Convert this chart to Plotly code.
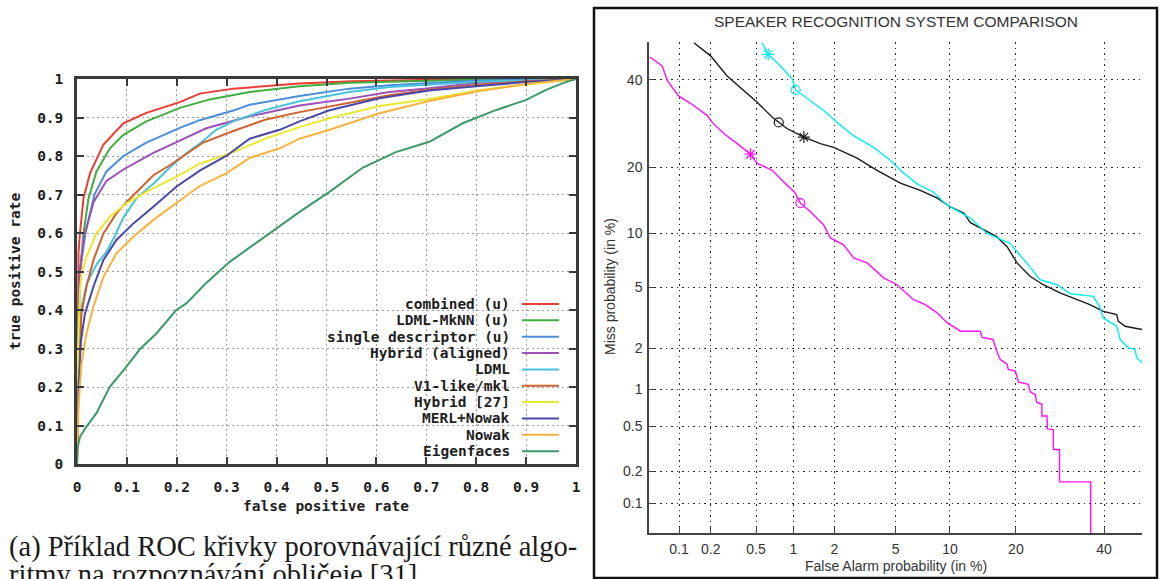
from statistics import NormalDist
import plotly.graph_objects as go

W, H = 1162, 579

# ---------------- ROC curves (face recognition) ----------------
roc_names = ["combined (u)", "LDML-MkNN (u)", "single descriptor (u)", "Hybrid (aligned)",
             "LDML", "V1-like/mkl", "Hybrid [27]", "MERL+Nowak", "Nowak", "Eigenfaces"]
roc_colors = ["#ee3b32", "#3fae3f", "#4a8edc", "#9b4fb8", "#46c4dc",
              "#d2602c", "#ebe832", "#4848ac", "#f9b33c", "#3b9a68"]

red_fpr = [0, 0.001, 0.003, 0.006, 0.013, 0.026, 0.053, 0.093, 0.139, 0.206, 0.246, 0.313, 0.446, 0.55, 0.65, 0.75, 1.0]
red_tpr = [0, 0.30, 0.55, 0.60, 0.69, 0.755, 0.83, 0.885, 0.912, 0.94, 0.962, 0.975, 0.988, 0.994, 0.997, 0.999, 1.0]

green_fpr = [0, 0.002, 0.006, 0.013, 0.023, 0.039, 0.066, 0.093, 0.139, 0.206, 0.266, 0.346, 0.446, 0.546, 0.626, 0.8, 1.0]
green_tpr = [0, 0.35, 0.50, 0.60, 0.69, 0.76, 0.82, 0.855, 0.89, 0.925, 0.947, 0.966, 0.981, 0.99, 0.993, 0.998, 1.0]

blue_fpr = [0, 0.002, 0.006, 0.017, 0.035, 0.059, 0.093, 0.139, 0.206, 0.246, 0.313, 0.346, 0.446, 0.546, 0.626, 0.706, 0.806, 1.0]
blue_tpr = [0, 0.30, 0.50, 0.60, 0.70, 0.76, 0.80, 0.835, 0.873, 0.893, 0.918, 0.933, 0.956, 0.975, 0.984, 0.99, 0.996, 1.0]

purple_fpr = [0, 0.002, 0.006, 0.014, 0.033, 0.059, 0.093, 0.153, 0.206, 0.259, 0.346, 0.446, 0.546, 0.626, 0.706, 0.806, 1.0]
purple_tpr = [0, 0.28, 0.50, 0.59, 0.68, 0.735, 0.765, 0.808, 0.84, 0.872, 0.903, 0.931, 0.949, 0.966, 0.976, 0.99, 1.0]

cyan_fpr = [0, 0.003, 0.008, 0.02, 0.04, 0.059, 0.073, 0.093, 0.119, 0.159, 0.186, 0.219, 0.246, 0.279, 0.313, 0.379, 0.446, 0.546, 0.626, 0.706, 0.806, 1.0]
cyan_tpr = [0, 0.25, 0.40, 0.47, 0.52, 0.551, 0.585, 0.64, 0.69, 0.735, 0.77, 0.807, 0.832, 0.868, 0.89, 0.92, 0.942, 0.966, 0.979, 0.985, 0.993, 1.0]

brown_fpr = [0, 0.003, 0.009, 0.019, 0.033, 0.053, 0.079, 0.093, 0.119, 0.153, 0.186, 0.253, 0.313, 0.379, 0.446, 0.513, 0.626, 0.706, 0.806, 0.9, 1.0]
brown_tpr = [0, 0.20, 0.392, 0.461, 0.53, 0.599, 0.651, 0.672, 0.706, 0.75, 0.776, 0.835, 0.865, 0.895, 0.914, 0.931, 0.958, 0.972, 0.985, 0.994, 1.0]

yellow_fpr = [0, 0.002, 0.006, 0.009, 0.019, 0.039, 0.066, 0.099, 0.146, 0.199, 0.246, 0.313, 0.379, 0.446, 0.506, 0.606, 0.706, 0.806, 0.9, 1.0]
yellow_tpr = [0, 0.30, 0.45, 0.495, 0.538, 0.599, 0.642, 0.677, 0.712, 0.746, 0.78, 0.81, 0.846, 0.875, 0.898, 0.93, 0.948, 0.971, 0.986, 1.0]

merl_fpr = [0, 0.003, 0.008, 0.016, 0.033, 0.053, 0.079, 0.113, 0.153, 0.199, 0.246, 0.299, 0.346, 0.406, 0.446, 0.506, 0.606, 0.706, 0.806, 0.9, 1.0]
merl_tpr = [0, 0.20, 0.32, 0.391, 0.461, 0.53, 0.582, 0.625, 0.668, 0.72, 0.762, 0.80, 0.845, 0.868, 0.89, 0.919, 0.95, 0.97, 0.982, 0.992, 1.0]

nowak_fpr = [0, 0.003, 0.009, 0.019, 0.033, 0.053, 0.079, 0.113, 0.153, 0.199, 0.246, 0.299, 0.346, 0.406, 0.446, 0.506, 0.606, 0.706, 0.806, 0.906, 1.0]
nowak_tpr = [0, 0.15, 0.26, 0.339, 0.409, 0.486, 0.547, 0.59, 0.634, 0.677, 0.722, 0.755, 0.795, 0.82, 0.845, 0.868, 0.911, 0.943, 0.969, 0.988, 1.0]

eigen_fpr = [0, 0, 0.006, 0.019, 0.039, 0.066, 0.096, 0.126, 0.159, 0.199, 0.219, 0.259, 0.306, 0.379, 0.446, 0.506, 0.573, 0.639, 0.706, 0.773, 0.839, 0.899, 0.939, 0.975, 1.0]
eigen_tpr = [0, 0.035, 0.071, 0.097, 0.132, 0.201, 0.248, 0.298, 0.339, 0.40, 0.417, 0.47, 0.525, 0.594, 0.655, 0.707, 0.77, 0.81, 0.837, 0.885, 0.919, 0.945, 0.971, 0.99, 1.0]

roc_series = [(red_fpr, red_tpr), (green_fpr, green_tpr), (blue_fpr, blue_tpr), (purple_fpr, purple_tpr),
              (cyan_fpr, cyan_tpr), (brown_fpr, brown_tpr), (yellow_fpr, yellow_tpr), (merl_fpr, merl_tpr),
              (nowak_fpr, nowak_tpr), (eigen_fpr, eigen_tpr)]
roc_ticks = [0, 0.1, 0.2, 0.3, 0.4, 0.5, 0.6, 0.7, 0.8, 0.9, 1]
roc_ticktext = ["0", "0.1", "0.2", "0.3", "0.4", "0.5", "0.6", "0.7", "0.8", "0.9", "1"]

# ---------------- DET curves (speaker recognition), values in % ----------------
pink_fa = [0.051, 0.068, 0.077, 0.099, 0.13, 0.186, 0.206, 0.263, 0.345, 0.449, 0.51, 0.68, 0.84, 1.02, 1.13,
           1.34, 1.68, 1.88, 2.32, 2.71, 3.33, 4.23, 5.1, 6.37, 7.4, 8.55, 9.65, 11.3, 14.0, 14.3, 16.0, 16.6,
           17.2, 18.4, 18.6, 19.9, 20.5, 22.4, 22.8, 23.8, 24.1, 25.2, 25.2, 26.3, 26.4, 27.7, 27.7, 29.1, 29.1,
           36.6, 36.6]
pink_miss = [46.0, 43.6, 39.7, 35.9, 34.0, 31.1, 29.5, 27.0, 24.8, 22.6, 20.8, 19.5, 17.4, 15.7, 14.0,
             12.8, 11.0, 9.46, 8.7, 7.4, 6.94, 5.7, 5.19, 4.21, 3.92, 3.49, 3.0, 2.63, 2.63, 2.39, 2.31, 1.92,
             1.67, 1.54, 1.41, 1.37, 1.13, 1.09, 0.95, 0.91, 0.79, 0.76, 0.61, 0.61, 0.476, 0.47, 0.316, 0.316,
             0.16, 0.16, 0.02]

black_fa = [0.139, 0.199, 0.281, 0.368, 0.51, 0.68, 0.766, 0.89, 1.20, 1.59, 1.98, 2.86, 3.85, 5.34, 6.94,
            8.55, 10.0, 11.7, 12.6, 14.5, 16.6, 18.4, 20.2, 22.8, 25.5, 29.2, 33.2, 36.4, 39.8, 43.3, 43.7,
            45.5, 50.0]
black_miss = [49.8, 46.3, 41.0, 38.0, 34.3, 30.7, 29.5, 28.1, 26.2, 24.8, 24.0, 21.8, 19.5, 17.2, 16.0,
              14.8, 13.5, 12.6, 11.3, 10.4, 9.6, 8.5, 6.94, 5.8, 5.19, 4.63, 4.21, 3.92, 3.55, 3.39, 3.07,
              2.84, 2.70]

cyan_fa = [0.56, 0.63, 0.79, 0.98, 1.04, 1.34, 1.68, 2.09, 2.71, 3.66, 4.65, 5.34, 6.66, 8.2, 9.26, 10.0,
           12.6, 15.0, 18.9, 22.1, 24.8, 28.5, 31.6, 37.3, 39.0, 39.8, 43.3, 44.2, 46.4, 48.1, 48.6, 50.0]
cyan_miss = [49.8, 46.7, 43.6, 40.2, 37.4, 34.7, 32.3, 29.5, 26.5, 24.0, 21.4, 19.5, 17.1, 15.7, 14.2, 13.5,
             11.9, 10.0, 8.87, 6.92, 5.56, 5.19, 4.58, 4.41, 3.74, 3.22, 2.84, 2.31, 2.02, 1.97, 1.72, 1.58]

# operating points: (FA %, Miss %)
black_star, black_circle = (1.20, 26.2), (0.766, 29.5)
cyan_star, cyan_circle = (0.63, 46.7), (1.04, 37.4)
pink_star, pink_circle = (0.449, 22.6), (1.13, 14.0)

det_ticks = [0.1, 0.2, 0.5, 1, 2, 5, 10, 20, 40]
det_ticktext = ["0.1", "0.2", "0.5", "1", "2", "5", "10", "20", "40"]
det_limits = [0.05, 50]

nd = NormalDist()


def probit(values):
    return [nd.inv_cdf(v / 100.0) for v in values]


fig = go.Figure()

for (fx, ty), col in zip(roc_series, roc_colors):
    fig.add_trace(go.Scatter(x=fx, y=ty, mode="lines", line=dict(color=col, width=2),
                             xaxis="x", yaxis="y", showlegend=False, hoverinfo="skip"))

det_lines = [(black_fa, black_miss, "#1a1a1a"), (cyan_fa, cyan_miss, "#00f0f0"), (pink_fa, pink_miss, "#ff10ff")]
for fa, miss, col in det_lines:
    fig.add_trace(go.Scatter(x=probit(fa), y=probit(miss), mode="lines", line=dict(color=col, width=1.4),
                             xaxis="x2", yaxis="y2", showlegend=False, hoverinfo="skip"))

det_points = [(black_star, black_circle, "#1a1a1a"), (cyan_star, cyan_circle, "#00f0f0"),
              (pink_star, pink_circle, "#ff10ff")]
for star, circ, col in det_points:
    fig.add_trace(go.Scatter(x=probit([star[0]]), y=probit([star[1]]), mode="markers",
                             marker=dict(symbol="asterisk-open", size=10, color=col,
                                         line=dict(color=col, width=1.2)),
                             xaxis="x2", yaxis="y2", showlegend=False, hoverinfo="skip"))
    fig.add_trace(go.Scatter(x=probit([circ[0]]), y=probit([circ[1]]), mode="markers",
                             marker=dict(symbol="circle-open", size=9, color=col,
                                         line=dict(color=col, width=1.2)),
                             xaxis="x2", yaxis="y2", showlegend=False, hoverinfo="skip"))


def px(x):
    return x / W


def py(y):
    return 1 - y / H


mono = dict(family="DejaVu Sans Mono", size=14.5, color="#1e1e1e", weight="bold")
sans = dict(family="Liberation Sans", size=14, color="#333333")
frame = "#3a3a3a"

roc_axis = dict(range=[0, 1], tickvals=roc_ticks, ticktext=roc_ticktext, showline=True, mirror="ticks",
                linecolor=frame, linewidth=2.5, ticks="inside", ticklen=7, tickwidth=2, tickcolor=frame,
                showgrid=True, gridcolor="#9c9c9c", gridwidth=1, griddash="2px,3px", zeroline=False,
                tickfont=mono)

det_range = probit(det_limits)
det_axis = dict(range=det_range, tickvals=probit(det_ticks), ticktext=det_ticktext, showline=True,
                mirror=False, linecolor="#444444", linewidth=1.5, ticks="inside", ticklen=6, tickwidth=1.2,
                tickcolor="#444444", showgrid=True, gridcolor="#202020", gridwidth=1, griddash="1.5px,4px",
                zeroline=False, tickfont=sans)

fig.update_layout(
    width=W, height=H, margin=dict(l=0, r=0, t=0, b=0, autoexpand=False),
    paper_bgcolor="white", plot_bgcolor="white", showlegend=False,
    xaxis=dict(roc_axis, domain=[px(77), px(576)], anchor="y", ticklabelstandoff=8),
    yaxis=dict(roc_axis, domain=[py(464), py(79)], anchor="x", ticklabelstandoff=8),
    xaxis2=dict(det_axis, domain=[px(649), px(1142)], anchor="y2", ticklabelstandoff=2),
    yaxis2=dict(det_axis, domain=[py(533), py(42)], anchor="x2", ticklabelstandoff=2),
)

shapes = []
annotations = []

# opaque key box over the ROC grid
shapes.append(dict(type="rect", xref="paper", yref="paper", x0=px(228), x1=px(575), y0=py(463), y1=py(293),
                   fillcolor="white", line=dict(width=0), layer="between"))
for i, (name, col) in enumerate(zip(roc_names, roc_colors)):
    yy = py(304 + i * 16.35)
    annotations.append(dict(x=px(512), y=yy, xref="paper", yref="paper", text=name, showarrow=False,
                            xanchor="right", yanchor="middle", font=mono))
    shapes.append(dict(type="line", xref="paper", yref="paper", x0=px(522), x1=px(559), y0=yy, y1=yy,
                       line=dict(color=col, width=2)))

# ROC axis titles
annotations.append(dict(x=px(326), y=py(506), xref="paper", yref="paper", text="false positive rate",
                        showarrow=False, xanchor="center", yanchor="middle", font=mono))
annotations.append(dict(x=px(15), y=py(272), xref="paper", yref="paper", text="true positive rate",
                        showarrow=False, xanchor="center", yanchor="middle", textangle=-90, font=mono))

# caption under the ROC figure (second line runs past the page bottom)
serif = dict(family="Liberation Serif", size=28.5, color="#1a1a1a")
annotations.append(dict(x=px(7), y=py(547), xref="paper", yref="paper",
                        text="(a) Příklad ROC křivky porovnávající různé algo-",
                        showarrow=False, xanchor="left", yanchor="middle", font=serif))
annotations.append(dict(x=px(7), y=py(574), xref="paper", yref="paper",
                        text="ritmy na rozpoznávání obličeje [31]",
                        showarrow=False, xanchor="left", yanchor="middle", font=serif))

# DET panel frame, title and axis titles
shapes.append(dict(type="rect", xref="paper", yref="paper", x0=px(594), x1=px(1157), y0=py(578), y1=py(8),
                   line=dict(color="#111111", width=2.5), fillcolor="rgba(0,0,0,0)"))
annotations.append(dict(x=px(896), y=py(22), xref="paper", yref="paper",
                        text="SPEAKER RECOGNITION SYSTEM COMPARISON", showarrow=False,
                        xanchor="center", yanchor="middle",
                        font=dict(family="Liberation Sans", size=15.5, color="#333333")))
annotations.append(dict(x=px(896), y=py(566), xref="paper", yref="paper", text="False Alarm probability (in %)",
                        showarrow=False, xanchor="center", yanchor="middle", font=sans))
annotations.append(dict(x=px(610), y=py(287), xref="paper", yref="paper", text="Miss probability (in %)",
                        showarrow=False, xanchor="center", yanchor="middle", textangle=-90, font=sans))

fig.update_layout(shapes=shapes, annotations=annotations)

# the page body gets no default margin so the figure fills the window exactly
fig.write_html("out.html", post_script="document.body.style.margin='0px';")
